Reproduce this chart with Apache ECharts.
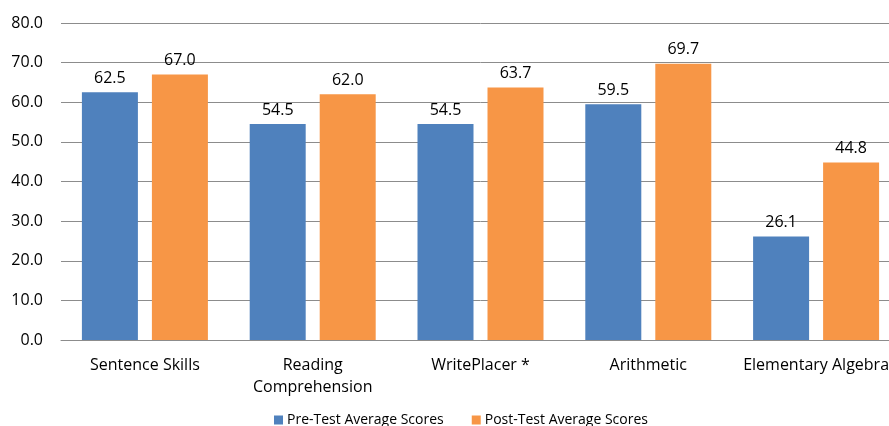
<!DOCTYPE html>
<html>
<head>
<meta charset="utf-8">
<script src="https://cdn.jsdelivr.net/npm/echarts@6/dist/echarts.min.js"></script>
<style>
  html, body { margin: 0; padding: 0; background: #fff; overflow: hidden; }
  /* the plot runs a little past the right edge of the window */
  #chart { width: 912px; height: 426px; }
</style>
</head>
<body>
<div id="chart"></div>
<script>
// Test categories and average scores
const categories = ['Sentence Skills', 'Reading\nComprehension', 'WritePlacer *', 'Arithmetic', 'Elementary Algebra'];
const preTest = [62.5, 54.5, 54.5, 59.5, 26.1];
const postTest = [67.0, 62.0, 63.7, 69.7, 44.8];
const seriesNames = ['Pre-Test Average Scores', 'Post-Test Average Scores'];

const FONT = '"Open Sans", Lato, sans-serif';
const chart = echarts.init(document.getElementById('chart'));

const valueLabel = {
  show: true,
  position: 'top',
  distance: 6,
  color: '#000',
  fontFamily: FONT,
  fontSize: 16,
  formatter: p => p.value.toFixed(1)
};

chart.setOption({
  animation: false,
  backgroundColor: '#fff',
  grid: { left: 61, top: 23, right: 12, height: 317, containLabel: false },
  legend: {
    data: seriesNames,
    left: 274,
    top: 413,
    padding: 0,
    itemWidth: 9,
    itemHeight: 9,
    itemGap: 28,
    icon: 'rect',
    textStyle: { fontFamily: FONT, fontSize: 14, color: '#000', padding: [0, 0, 0, -1] }
  },
  xAxis: {
    type: 'category',
    data: categories,
    axisLine: { show: true, lineStyle: { color: '#8c8c8c', width: 1 } },
    axisTick: { show: false },
    axisLabel: { interval: 0, fontFamily: FONT, fontSize: 16, color: '#000', margin: 14, lineHeight: 22 }
  },
  yAxis: {
    type: 'value',
    min: 0,
    max: 80,
    interval: 10,
    axisLine: { show: false },
    axisTick: { show: false },
    splitLine: { lineStyle: { color: '#8c8c8c', width: 1 } },
    axisLabel: {
      fontFamily: FONT, fontSize: 16, color: '#000', margin: 18,
      formatter: v => v.toFixed(1)
    }
  },
  series: [
    {
      name: seriesNames[0],
      type: 'bar',
      data: preTest,
      barWidth: 56,
      barGap: '25%',
      itemStyle: { color: '#4f81bd' },
      label: valueLabel
    },
    {
      name: seriesNames[1],
      type: 'bar',
      data: postTest,
      barWidth: 56,
      barGap: '25%',
      itemStyle: { color: '#f79646' },
      label: valueLabel
    }
  ]
});
</script>
</body>
</html>
